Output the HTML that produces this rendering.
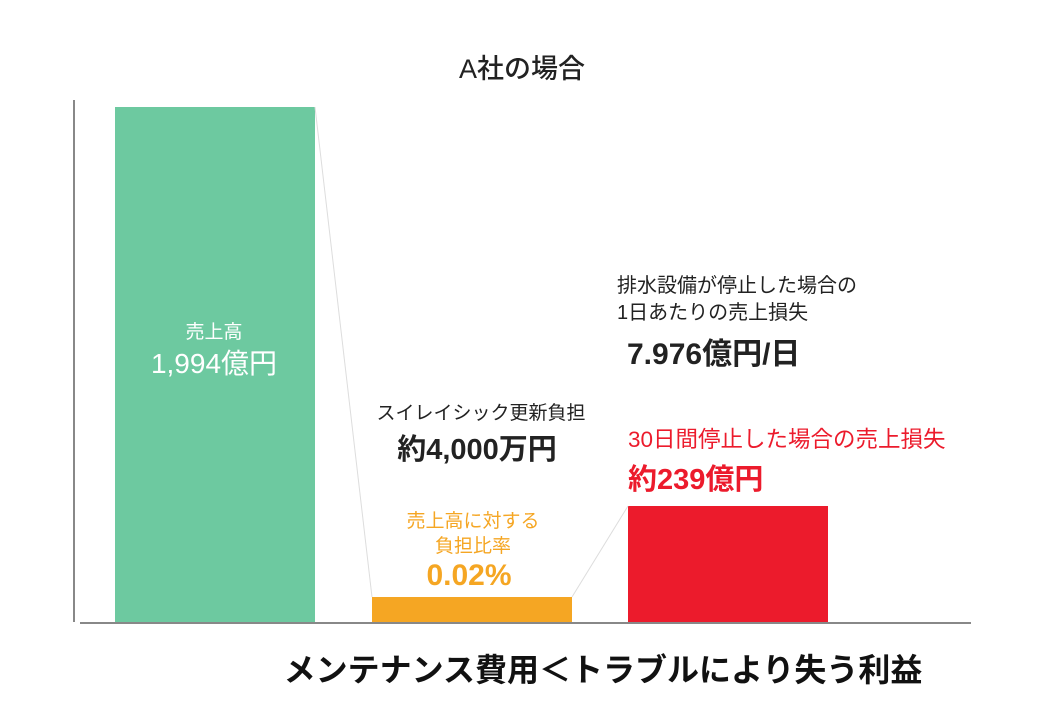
<!DOCTYPE html>
<html><head><meta charset="utf-8"><style>
html,body{margin:0;padding:0;background:#fff;}
svg{display:block;font-family:"Liberation Sans","Noto Sans CJK JP",sans-serif;}
</style></head><body>
<svg width="1050" height="723" viewBox="0 0 1050 723" xmlns="http://www.w3.org/2000/svg">
<rect width="1050" height="723" fill="#fff"/>
<text x="522" y="78" font-size="27" font-weight="500" text-anchor="middle" fill="#222">A社の場合</text>
<line x1="74" y1="100" x2="74" y2="622" stroke="#888" stroke-width="2"/>
<line x1="80" y1="623" x2="971" y2="623" stroke="#888" stroke-width="2"/>
<rect x="115" y="107" width="200" height="515" fill="#6dc9a0"/>
<rect x="372" y="597" width="200" height="25" fill="#f5a623"/>
<rect x="628" y="506" width="200" height="116" fill="#ec1b2c"/>
<line x1="315" y1="107" x2="372" y2="597" stroke="#ddd" stroke-width="1"/>
<line x1="572" y1="597" x2="628" y2="506" stroke="#ddd" stroke-width="1"/>
<text x="214" y="338" font-size="19" text-anchor="middle" fill="#fff">売上高</text>
<text x="214" y="373" font-size="28" text-anchor="middle" fill="#fff">1,994億円</text>
<text x="481" y="419" font-size="19" text-anchor="middle" fill="#222">スイレイシック更新負担</text>
<text x="477" y="459" font-size="29" font-weight="bold" text-anchor="middle" fill="#222">約4,000万円</text>
<text x="473" y="527" font-size="19" text-anchor="middle" fill="#f5a623">売上高に対する</text>
<text x="473" y="552" font-size="19" text-anchor="middle" fill="#f5a623">負担比率</text>
<text x="469" y="585" font-size="30" font-weight="bold" text-anchor="middle" fill="#f5a623">0.02%</text>
<text x="617" y="292" font-size="20" fill="#222">排水設備が停止した場合の</text>
<text x="617" y="319" font-size="20" fill="#222">1日あたりの売上損失</text>
<text x="627" y="364" font-size="30" font-weight="bold" fill="#222">7.976億円/日</text>
<text x="628" y="447" font-size="22.5" fill="#ec1b2c">30日間停止した場合の売上損失</text>
<text x="628" y="489" font-size="29" font-weight="bold" fill="#ec1b2c">約239億円</text>
<text x="603" y="681" font-size="32" font-weight="bold" text-anchor="middle" fill="#111">メンテナンス費用＜トラブルにより失う利益</text>
</svg>
</body></html>
